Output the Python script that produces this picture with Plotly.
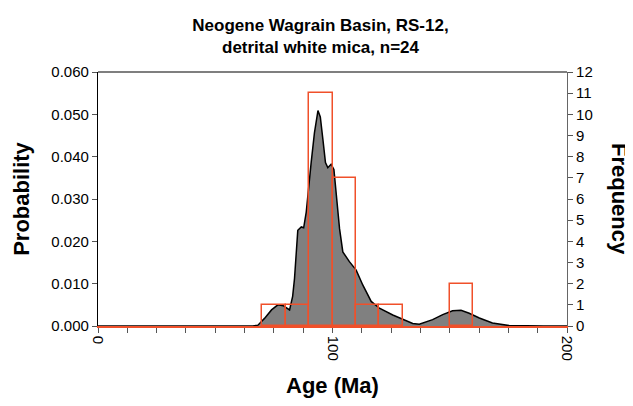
import plotly.graph_objects as go

# Probability density curve (Age in Ma, probability)
pdf_age = [0, 60, 66, 68.2, 71, 74, 76.7, 79, 81.7, 83, 83.8, 85.2, 86.7, 87.7, 88.8, 90.9, 92.3, 93.8,
           94.8, 95.9, 97.0, 98.0, 99.4, 100.6, 101.6, 103.0, 104.4, 107.2, 110.1, 112.9, 116.5,
           120, 125.7, 131.4, 134.2, 137, 142.7, 147, 151.2, 154.8, 158.3, 162.6, 168.2,
           175.3, 181.7, 190, 200]
pdf_prob = [0, 0, 0, 0.0002, 0.0018, 0.0038, 0.0050, 0.0048, 0.0038, 0.0070, 0.0112, 0.0226, 0.0234,
            0.0232, 0.0269, 0.0386, 0.0456, 0.0509, 0.0494, 0.0441, 0.0386, 0.0374, 0.0382, 0.0370,
            0.0308, 0.0230, 0.0175, 0.0152, 0.0132, 0.0097, 0.0058, 0.0042, 0.0026, 0.0013,
            0.0006, 0.0004, 0.0015, 0.0027, 0.0036, 0.0037, 0.0030, 0.0019, 0.0007, 0.0001, 0.0,
            0.0, 0.0]

# Histogram (bin start in Ma, 10 Ma bins, counts)
bin_start = [70, 80, 90, 100, 110, 120, 150]
bin_count = [1, 1, 11, 7, 1, 1, 2]
bin_width = 10

x_tick_vals = [0, 100, 200]
x_tick_text = ["0", "100", "200"]

title_text = "Neogene Wagrain Basin, RS-12,<br>detrital white mica, n=24"

RED = "#f0502a"
FONT = "Liberation Sans, Arial, sans-serif"

# the page body has an 8px margin, so the figure is 8px smaller than the window
W, H = 625, 398
L, R, T, B = 90, 66, 64, 78

fig = go.Figure()
fig.add_trace(go.Scatter(
    x=pdf_age, y=pdf_prob, mode="lines", fill="tozeroy",
    fillcolor="#808080", line=dict(color="black", width=1.5),
    hoverinfo="skip", showlegend=False, yaxis="y"))
fig.add_trace(go.Bar(
    x=[b + bin_width / 2 for b in bin_start], y=bin_count, width=bin_width,
    marker=dict(color="rgba(0,0,0,0)", line=dict(color=RED, width=1.5)),
    showlegend=False, yaxis="y2"))

fig.update_layout(
    width=W, height=H,
    margin=dict(l=L, r=R, t=T, b=B),
    paper_bgcolor="white", plot_bgcolor="white",
    font=dict(family=FONT, color="black", size=15),
    title=dict(text=title_text, x=0.5, xanchor="center", xref="container",
               yref="container", y=1 - 23 / H, yanchor="middle",
               font=dict(size=17, weight="bold", family=FONT)),
    xaxis=dict(range=[0, 200], showgrid=False, zeroline=False,
               showline=True, linecolor=RED, linewidth=1.5,
               tickmode="array", tickvals=x_tick_vals, ticktext=x_tick_text,
               tickangle=90, ticks="outside", ticklen=5, tickcolor="#555555",
               minor=dict(dtick=12.5, ticks="outside", ticklen=5, tickcolor="#555555"),
               title=dict(text="Age (Ma)", font=dict(size=22, weight="bold"), standoff=18)),
    yaxis=dict(range=[0, 0.06], dtick=0.01, tickformat=".3f", showgrid=False, zeroline=False,
               showline=True, linecolor="black", linewidth=1.2,
               ticks="outside", ticklen=5, tickcolor="#555555",
               title=dict(text="Probability", font=dict(size=22, weight="bold"), standoff=15)),
    yaxis2=dict(range=[0, 12], dtick=1, overlaying="y", side="right", showgrid=False,
                zeroline=False, showline=True, linecolor="#666666", linewidth=1.2,
                ticks="outside", ticklen=5, tickcolor="#555555", tickfont=dict(size=15)),
    bargap=0,
    shapes=[dict(type="line", xref="paper", yref="paper", x0=0, x1=1, y0=1, y1=1,
                 line=dict(color="black", width=1.2))],
    annotations=[dict(text="<b>Frequency</b>", xref="paper", yref="paper",
                      x=(612 - L) / (W - L - R), y=0.5, xanchor="center", yanchor="middle",
                      textangle=90, showarrow=False, font=dict(size=22, family=FONT))],
)

fig.write_html("out.html")
